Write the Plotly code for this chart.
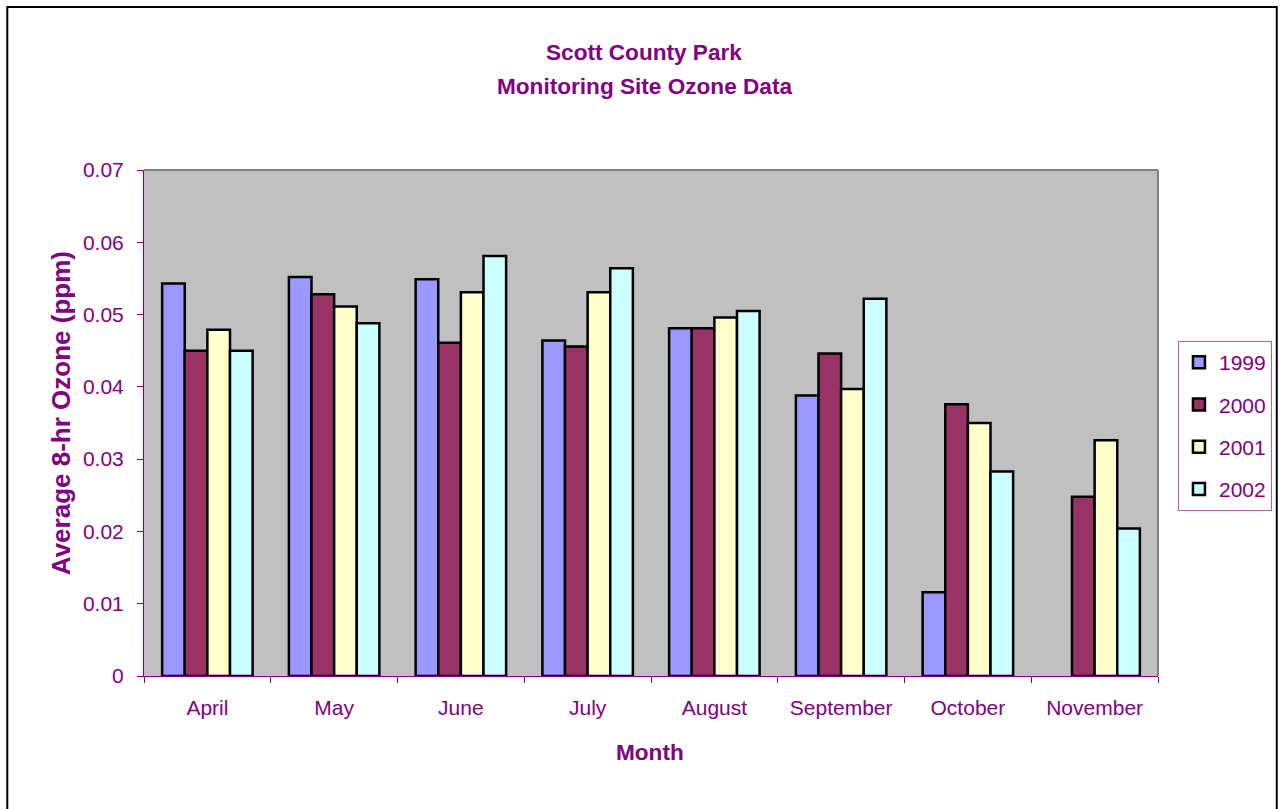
import plotly.graph_objects as go

months = ["April", "May", "June", "July", "August", "September", "October", "November"]
years = ["1999", "2000", "2001", "2002"]
v1999 = [0.0543, 0.0552, 0.0549, 0.0464, 0.0481, 0.0388, 0.0116, None]
v2000 = [0.0450, 0.0528, 0.0461, 0.0456, 0.0481, 0.0446, 0.0376, 0.0248]
v2001 = [0.0479, 0.0511, 0.0531, 0.0531, 0.0496, 0.0397, 0.0350, 0.0326]
v2002 = [0.0450, 0.0488, 0.0581, 0.0564, 0.0505, 0.0522, 0.0283, 0.0204]
series = [v1999, v2000, v2001, v2002]
colors = ["#9999FF", "#993366", "#FFFFCC", "#CCFFFF"]

PURPLE = "#800080"
FONT = "Liberation Sans, Arial, sans-serif"
W, H = 1284, 809
L, R, T, B = 144, 124, 170, 133

fig = go.Figure()
for i, (name, vals) in enumerate(zip(years, series)):
    fig.add_trace(go.Bar(
        x=months, y=vals, name=name,
        marker=dict(color=colors[i], line=dict(color="black", width=2.5)),
        legendgroup=name,
    ))

pw = W - L - R
ph = H - T - B
def px_x(p):
    return (p - L) / pw
def px_y(p):
    return (H - B - p) / ph

fig.update_layout(
    width=W, height=H,
    margin=dict(l=L, r=R, t=T, b=B, pad=0),
    paper_bgcolor="white",
    plot_bgcolor="#C0C0C0",
    barmode="group",
    bargap=0.286,
    bargroupgap=0,
    font=dict(family=FONT, color=PURPLE, size=21),
    xaxis=dict(
        tickson="boundaries", ticks="outside", ticklen=6, tickcolor=PURPLE,
        showline=True, linecolor=PURPLE, linewidth=1,
        tickfont=dict(size=21, color=PURPLE), ticklabelstandoff=13,
        showgrid=False,
    ),
    yaxis=dict(
        range=[0, 0.07], dtick=0.01, tickformat="~g",
        ticks="outside", ticklen=6, tickcolor=PURPLE,
        showline=True, linecolor=PURPLE, linewidth=1,
        tickfont=dict(size=21, color=PURPLE), ticklabelstandoff=9,
        showgrid=False, zeroline=False,
    ),
    legend=dict(
        x=px_x(1180), y=px_y(341), xanchor="left", yanchor="top",
        bordercolor="#B060B0", borderwidth=1, bgcolor="white",
        font=dict(size=21, color=PURPLE),
        traceorder="grouped", tracegroupgap=12,
        itemwidth=30,
    ),
    showlegend=True,
)

# titles as annotations
ann = [
    dict(text="<b>Scott County Park</b>", x=px_x(645), y=px_y(52), size=22.6, angle=0),
    dict(text="<b>Monitoring Site Ozone Data</b>", x=px_x(645), y=px_y(86), size=22.6, angle=0),
    dict(text="<b>Month</b>", x=px_x(651), y=px_y(752), size=22.6, angle=0),
    dict(text="<b>Average 8-hr Ozone (ppm)</b>", x=px_x(61), y=px_y(413), size=26, angle=-90),
]
for a in ann:
    fig.add_annotation(text=a["text"], x=a["x"], y=a["y"], xref="paper", yref="paper",
                       xanchor="center", yanchor="middle", showarrow=False,
                       textangle=a["angle"], font=dict(family=FONT, size=a["size"], color=PURPLE))

# plot-area top/right border (gray)
fig.add_shape(type="line", xref="paper", yref="paper", x0=0, x1=1, y0=1, y1=1,
              line=dict(color="#808080", width=2))
fig.add_shape(type="line", xref="paper", yref="paper", x0=1, x1=1, y0=0, y1=1,
              line=dict(color="#808080", width=2))
# outer chart border
fig.add_shape(type="rect", xref="paper", yref="paper",
              x0=px_x(7), x1=px_x(1279), y0=px_y(820), y1=px_y(7),
              line=dict(color="black", width=2), layer="below")

fig.write_html("out.html", config={"displayModeBar": False},
               post_script="document.body.style.margin='0';")
